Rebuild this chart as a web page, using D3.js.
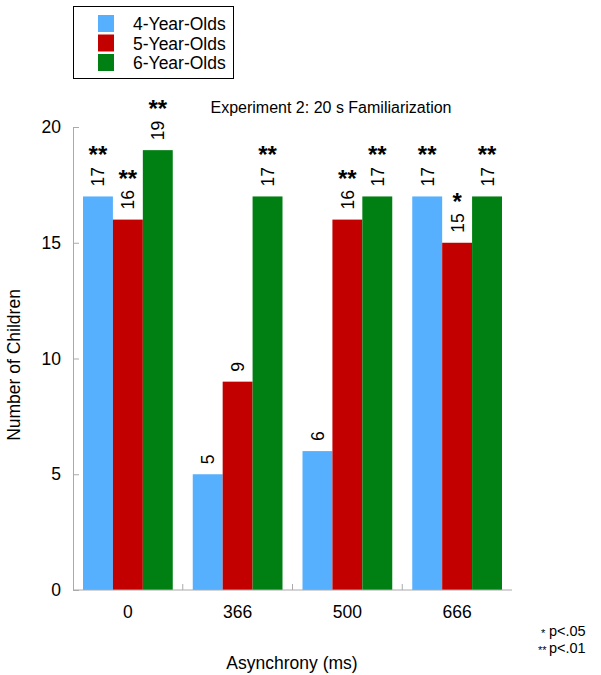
<!DOCTYPE html>
<html><head><meta charset="utf-8">
<script src="https://cdn.jsdelivr.net/npm/d3@7"></script>
<style>body{margin:0;background:#fff}svg{display:block;font-family:"Liberation Sans",Arial,sans-serif}</style>
</head><body><svg id="c" width="601" height="675"></svg>
<script>
const categories = ["0", "366", "500", "666"];
const groups = ["4-Year-Olds", "5-Year-Olds", "6-Year-Olds"];
const colors = ["#57b0fd", "#c30000", "#007f12"];
const values4 = [17, 5, 6, 17];
const values5 = [16, 9, 16, 15];
const values6 = [19, 17, 17, 17];
const sig4 = ["**", "", "", "**"];
const sig5 = ["**", "", "**", "*"];
const sig6 = ["**", "**", "**", "**"];
const yTicks = [0, 5, 10, 15, 20];

const svg = d3.select("#c");
const x0 = d3.scaleBand().domain(categories).range([73, 512]).paddingInner(0).paddingOuter(0);
const x1 = d3.scaleBand().domain(groups).range([10, x0.bandwidth() - 10]);
const y = d3.scaleLinear().domain([0, 20]).range([590, 127]);

const series = [values4, values5, values6];
const sigs = [sig4, sig5, sig6];
const data = [];
categories.forEach((c, i) => groups.forEach((g, j) => data.push({c, g, j, v: series[j][i], s: sigs[j][i]})));

// bars
svg.append("g").selectAll("rect").data(data).join("rect")
  .attr("x", d => x0(d.c) + x1(d.g))
  .attr("y", d => y(d.v))
  .attr("width", x1.bandwidth())
  .attr("height", d => y(0) - y(d.v))
  .attr("fill", d => colors[d.j]);

// axes
const yAxis = d3.axisLeft(y).tickValues(yTicks).tickSize(-6).tickPadding(12);
const gy = svg.append("g").attr("transform", "translate(73,0)").call(yAxis);
gy.selectAll("path,line").attr("stroke", "#aaa");
gy.selectAll("text").attr("font-size", 17.5).attr("fill", "#000").attr("font-family", "Liberation Sans, Arial, sans-serif");

const gx = svg.append("g").attr("transform", "translate(0,590)");
gx.append("line").attr("x1", 73).attr("x2", 512).attr("stroke", "#aaa");
gx.selectAll("line.t").data(categories.slice(1)).join("line").attr("class", "t")
  .attr("x1", d => x0(d)).attr("x2", d => x0(d)).attr("y1", 0).attr("y2", -6).attr("stroke", "#aaa");
gx.selectAll("text").data(categories).join("text")
  .attr("x", d => x0(d) + x0.bandwidth() / 2).attr("y", 28)
  .attr("text-anchor", "middle").attr("font-size", 17.5).text(d => d);

// value labels
svg.append("g").selectAll("text").data(data).join("text")
  .attr("transform", d => `translate(${x0(d.c) + x1(d.g) + x1.bandwidth() / 2 + 6.5},${y(d.v) - 10}) rotate(-90)`)
  .attr("font-size", 17.5).text(d => d.v);

// significance stars
svg.append("g").selectAll("text").data(data.filter(d => d.s)).join("text")
  .attr("x", d => x0(d.c) + x1(d.g) + x1.bandwidth() / 2)
  .attr("y", d => y(d.v) - 33)
  .attr("text-anchor", "middle").attr("font-size", 24).attr("font-weight", "bold")
  .text(d => d.s);

// title
svg.append("text").attr("x", 331).attr("y", 113).attr("text-anchor", "middle").attr("font-size", 16)
  .text("Experiment 2: 20 s Familiarization");

// axis titles
svg.append("text").attr("transform", "translate(19.5,365) rotate(-90)").attr("text-anchor", "middle")
  .attr("font-size", 17.5).text("Number of Children");
svg.append("text").attr("x", 292).attr("y", 669).attr("text-anchor", "middle").attr("font-size", 17.5)
  .text("Asynchrony (ms)");

// p notes
svg.append("text").attr("x", 541).attr("y", 637).attr("font-size", 11).text("*");
svg.append("text").attr("x", 549).attr("y", 636).attr("font-size", 14.5).text("p<.05");
svg.append("text").attr("x", 538).attr("y", 654).attr("font-size", 11).text("**");
svg.append("text").attr("x", 549).attr("y", 653).attr("font-size", 14.5).text("p<.01");

// legend
const lg = svg.append("g");
lg.append("rect").attr("x", 73.5).attr("y", 6.5).attr("width", 160).attr("height", 72)
  .attr("fill", "#fff").attr("stroke", "#000").attr("stroke-width", 1);
groups.forEach((g, j) => {
  lg.append("rect").attr("x", 98).attr("y", 15 + j * 19.5).attr("width", 16).attr("height", 17).attr("fill", colors[j]);
  lg.append("text").attr("x", 133).attr("y", 30 + j * 19.5).attr("font-size", 17.5).text(g);
});
</script></body></html>
